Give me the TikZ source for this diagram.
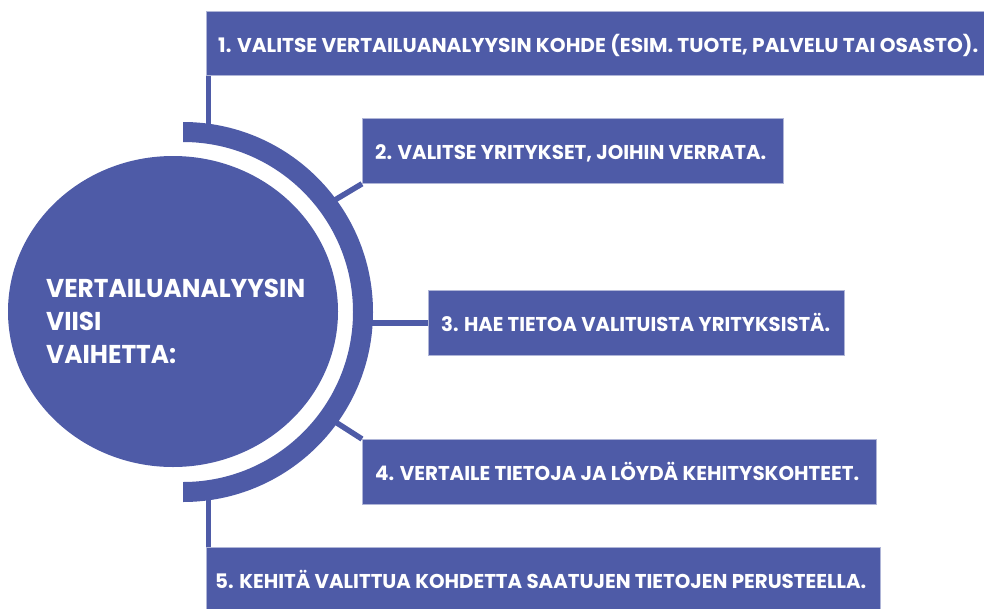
\documentclass[tikz,border=0pt]{standalone}
\usepackage{graphicx}
\usepackage{fontspec}
\setmainfont{Poppins}
\usetikzlibrary{shapes.geometric,positioning,calc}
\definecolor{stepblue}{RGB}{78,91,167}
\tikzset{
stepbox/.style = {draw=stepblue!45, line width=0.8pt, fill=stepblue, rectangle, inner sep=0pt, anchor=north west},
steptext/.style = {anchor=base west, inner sep=0pt, text=white, font=\fontsize{20}{24}\selectfont\bfseries},
hub/.style = {fill=stepblue, ellipse, inner sep=0pt, minimum width=330pt, minimum height=311pt},
hubtext/.style = {anchor=base west, inner sep=0pt, text=white, font=\fontsize{25.8}{33}\selectfont\bfseries},
link/.style = {draw=stepblue, line width=5.5pt}
}
\newcommand{\fitto}[2]{\resizebox{#1}{\height}{#2}}

\begin{document}
\begin{tikzpicture}[x=1pt, y=-1pt]
    \useasboundingbox (0,0) rectangle (984,608);
    % ring round the hub
    \fill[stepblue] (183,122) arc[start angle=-90, end angle=90, radius=190]
      -- (183,482) arc[start angle=90, end angle=-90, radius=170] -- cycle;
    \coordinate (ring1) at (208.5,124);
    \coordinate (ring2) at ($(183,312)+(-36.4:189)$);
    \coordinate (ring3) at (371,322);
    \coordinate (ring4) at ($(183,312)+(35.8:189)$);
    \coordinate (ring5) at (208.5,500);
    % boxes
    \node [stepbox, minimum width=778pt, minimum height=64pt] (box1) at (206,11) {};
    \node [stepbox, minimum width=421pt, minimum height=65pt] (box2) at (362,118) {};
    \node [stepbox, minimum width=416pt, minimum height=65pt] (box3) at (428,290) {};
    \node [stepbox, minimum width=514pt, minimum height=65pt] (box4) at (362,439) {};
    \node [stepbox, minimum width=674pt, minimum height=64pt] (box5) at (206,547) {};
    % connectors
    \draw [link] (ring1) -- (ring1 |- box1.south);
    \draw [link] (box2.south west) -- (ring2);
    \draw [link] (box3.west) -- (box3.west -| ring3);
    \draw [link] (box4.north west) -- (ring4);
    \draw [link] (ring5) -- (ring5 |- box5.north);
    \node [hub] (hub) at (173,311.5) {};
    \node [hubtext] (title) at (46,297) {\fitto{259pt}{\begin{tabular}[t]{@{}l@{}}VERTAILUANALYYSIN\\ VIISI\\ VAIHETTA:\end{tabular}}};
    % texts
    \node [steptext] (text1) at ($(box1.west)+(12,9)$) {\fitto{760pt}{1. VALITSE VERTAILUANALYYSIN KOHDE (ESIM. TUOTE, PALVELU TAI OSASTO).}};
    \node [steptext] (text2) at ($(box2.west)+(13,9)$) {\fitto{391pt}{2. VALITSE YRITYKSET, JOIHIN VERRATA.}};
    \node [steptext] (text3) at ($(box3.west)+(13,9)$) {\fitto{389pt}{3. HAE TIETOA VALITUISTA YRITYKSISTÄ.}};
    \node [steptext] (text4) at ($(box4.west)+(13,9)$) {\fitto{484pt}{4. VERTAILE TIETOJA JA LÖYDÄ KEHITYSKOHTEET.}};
    \node [steptext] (text5) at ($(box5.west)+(9,9)$) {\fitto{651pt}{5. KEHITÄ VALITTUA KOHDETTA SAATUJEN TIETOJEN PERUSTEELLA.}};
\end{tikzpicture}
\end{document}
